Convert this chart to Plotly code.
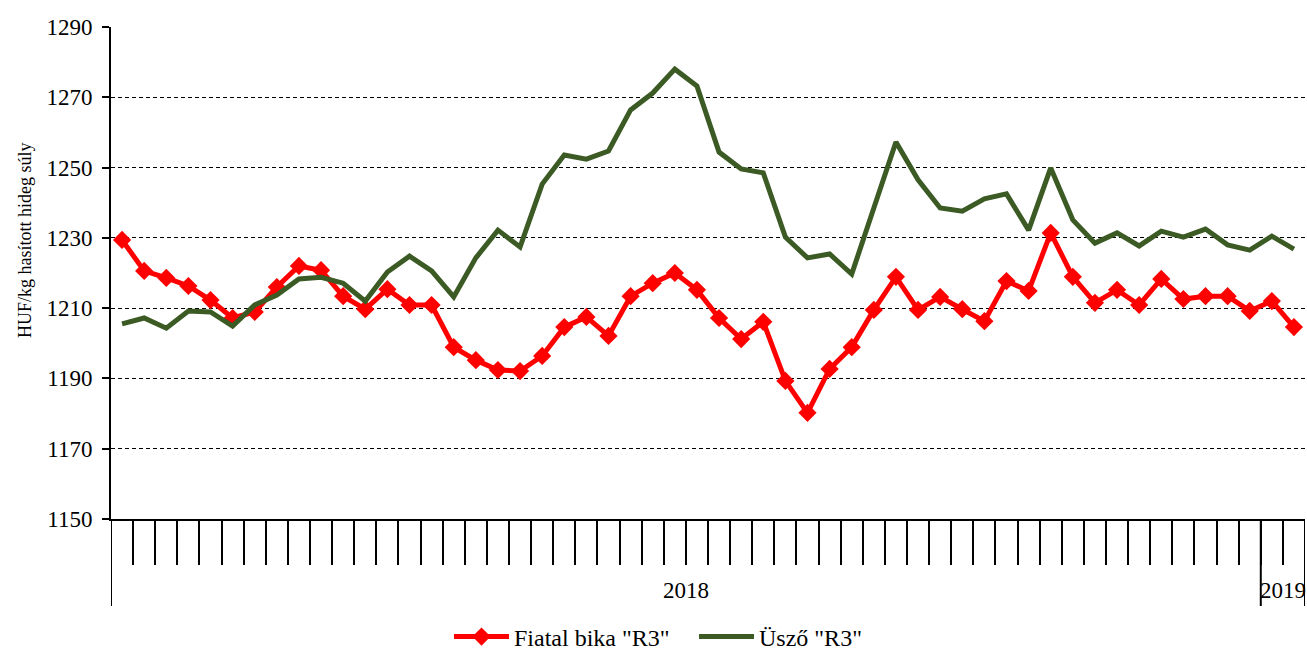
import plotly.graph_objects as go

# Weekly categories: 52 weeks of 2018, 2 weeks of 2019
weeks_2018 = list(range(1, 53))
weeks_2019 = [1, 2]
year_labels = ["2018", "2019"]

bika = [1229.4, 1220.6, 1218.6, 1216.3, 1212.3, 1207.2, 1208.9, 1216.0, 1222.0, 1220.8,
        1213.4, 1209.7, 1215.4, 1210.9, 1210.9, 1198.9, 1195.2, 1192.4, 1192.1, 1196.4,
        1204.6, 1207.5, 1202.1, 1213.4, 1217.1, 1220.0, 1215.2, 1207.2, 1201.2, 1206.1,
        1189.3, 1180.2, 1192.7, 1198.9, 1209.5, 1218.9, 1209.5, 1213.2, 1209.7, 1206.3,
        1217.7, 1214.9, 1231.4, 1218.9, 1211.5, 1215.2, 1210.9, 1218.3, 1212.6, 1213.4,
        1213.4, 1209.2, 1212.0, 1204.6]

uszo = [1205.5, 1207.2, 1204.3, 1209.2, 1208.9, 1204.9, 1210.9, 1213.7, 1218.3, 1218.8,
        1217.1, 1212.0, 1220.3, 1224.8, 1220.6, 1213.2, 1224.3, 1232.2, 1227.4, 1245.3,
        1253.6, 1252.4, 1254.7, 1266.4, 1271.2, 1278.0, 1273.2, 1254.4, 1249.6, 1248.5,
        1230.2, 1224.3, 1225.4, 1219.7, 1238.5, 1257.3, 1246.5, 1238.5, 1237.6, 1241.1,
        1242.5, 1232.2, 1249.9, 1235.1, 1228.5, 1231.4, 1227.7, 1231.9, 1230.2, 1232.5,
        1228.0, 1226.5, 1230.5, 1226.8]

series_names = ['Fiatal bika "R3"', 'Üsző "R3"']
y_ticks = [1150, 1170, 1190, 1210, 1230, 1250, 1270, 1290]

n = len(weeks_2018) + len(weeks_2019)
x = list(range(n))
week_text = [f"{y}. {w}. hét" for y, ws in (("2018", weeks_2018), ("2019", weeks_2019)) for w in ws]

FONT = "Liberation Serif, Times New Roman, serif"

fig = go.Figure()
fig.add_trace(go.Scatter(
    x=x, y=bika, name=series_names[0], mode="lines+markers",
    line=dict(color="#FF0000", width=5),
    marker=dict(symbol="diamond", size=14, color="#FF0000"),
    text=week_text,
))
fig.add_trace(go.Scatter(
    x=x, y=uszo, name=series_names[1], mode="lines",
    line=dict(color="#3B5A24", width=5),
    text=week_text,
))

# category boundaries for the tick marks
boundaries = [i + 0.5 for i in range(n - 1)]
split = len(weeks_2018) - 0.5

fig.update_xaxes(
    range=[-0.5, n - 0.5], showgrid=False, zeroline=False,
    showline=True, linecolor="black", linewidth=2,
    tickmode="array", tickvals=boundaries, ticktext=[""] * len(boundaries),
    ticks="outside", ticklen=44, tickwidth=2, tickcolor="black",
)
fig.update_yaxes(
    range=[y_ticks[0], y_ticks[-1]], tickvals=y_ticks,
    showgrid=True, gridcolor="black", gridwidth=1, griddash="4px,3px",
    zeroline=False, showline=True, linecolor="black", linewidth=2,
    ticks="outside", ticklen=7, tickwidth=2, tickcolor="black",
    tickfont=dict(family=FONT, size=23, color="black"),
    ticklabelstandoff=5,
)

# long separator lines (axis start, year break, axis end)
low = -87 / 492
for xv in (-0.5, split, n - 0.5):
    fig.add_shape(type="line", xref="x", yref="paper", x0=xv, x1=xv, y0=0, y1=low,
                  line=dict(color="black", width=2))

# year labels
centers = [(len(weeks_2018) - 1) / 2, len(weeks_2018) + (len(weeks_2019) - 1) / 2]
for lbl, cx in zip(year_labels, centers):
    fig.add_annotation(x=cx, xref="x", y=-71 / 492, yref="paper", text=lbl,
                       showarrow=False, font=dict(family=FONT, size=23, color="black"),
                       xanchor="center", yanchor="middle")

# y title
fig.add_annotation(x=(25 - 111) / 1194, xref="paper", y=(519 - 240) / 492, yref="paper",
                   text="HUF/kg hasított hideg súly", textangle=-90, showarrow=False,
                   font=dict(family=FONT, size=18, color="black"),
                   xanchor="center", yanchor="middle")

fig.update_layout(
    width=1307, height=653,
    margin=dict(l=111, r=2, t=27, b=134, autoexpand=False),
    paper_bgcolor="white", plot_bgcolor="white",
    showlegend=True,
    legend=dict(orientation="h", x=(449 - 111) / 1194, xanchor="left",
                y=(519 - 637) / 492, yanchor="middle",
                font=dict(family=FONT, size=24, color="black"),
                itemwidth=55, entrywidth=175, entrywidthmode="pixels",
                bgcolor="rgba(0,0,0,0)"),
    font=dict(family=FONT, color="black"),
)

fig.write_html("out.html", config={"displayModeBar": False},
               post_script="document.body.style.margin='0';document.body.style.overflow='hidden';")
